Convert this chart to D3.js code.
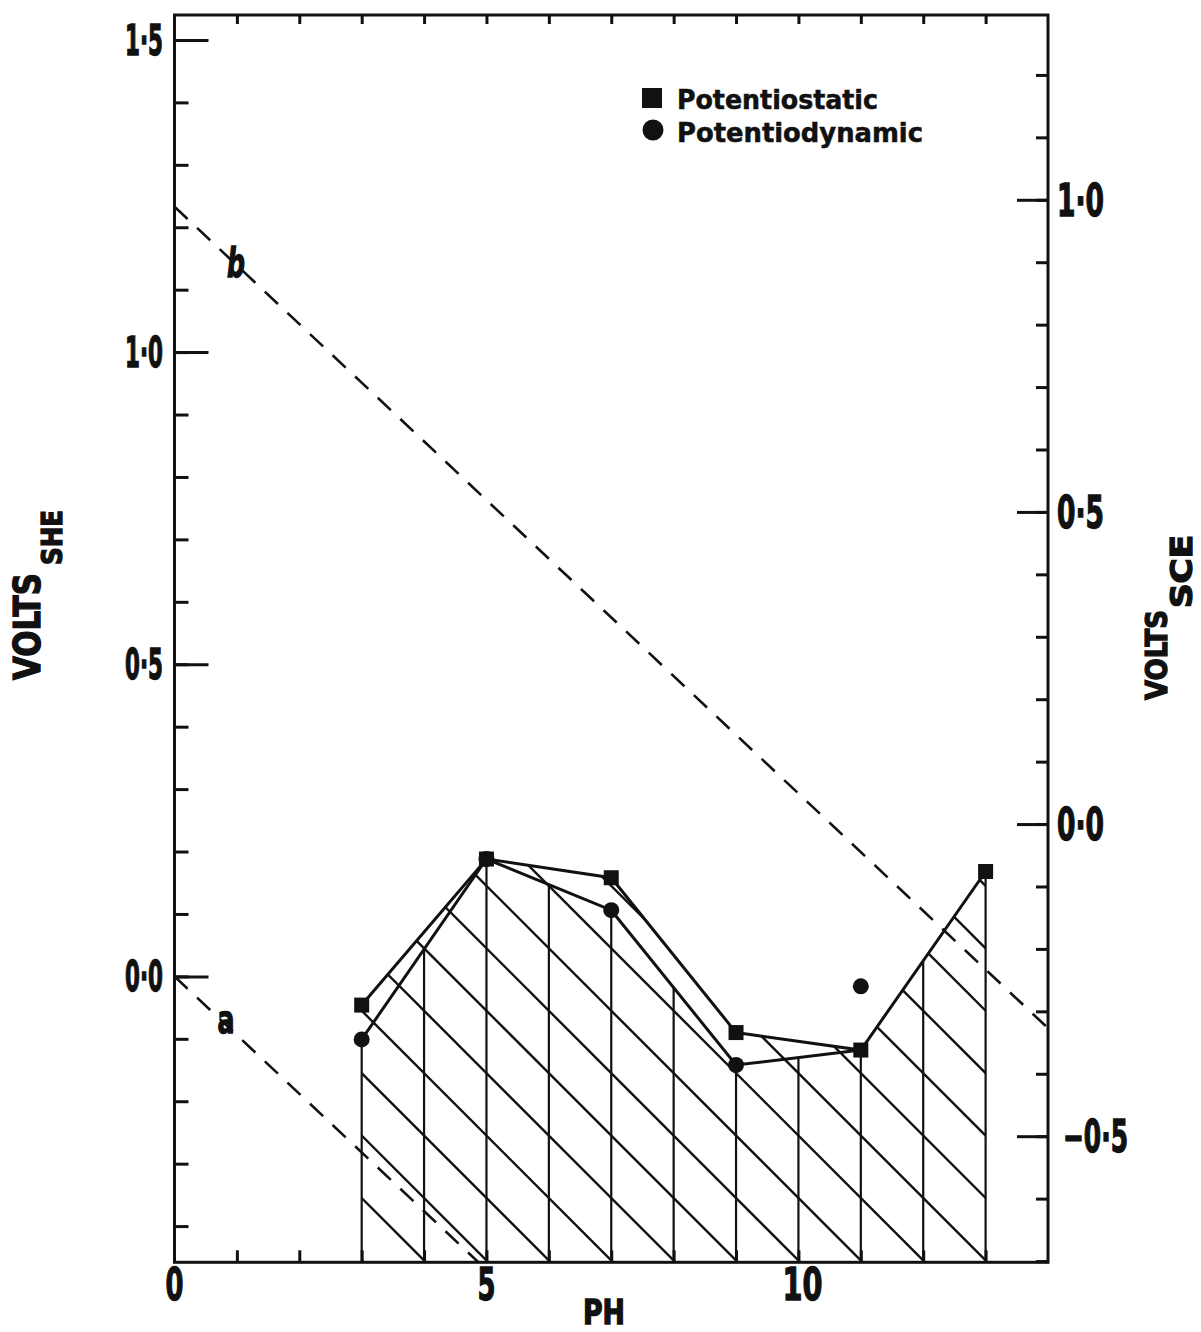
<!DOCTYPE html>
<html>
<head>
<meta charset="utf-8">
<script src="https://cdn.jsdelivr.net/npm/d3@7"></script>
<style>
  body { margin: 0; background: #fff; }
  svg text { font-family: "Liberation Sans Narrow", "DejaVu Sans Condensed", "Liberation Sans", sans-serif; font-weight: bold; fill: #111; }
  svg text.heavy { stroke: #111; stroke-width: 1.3px; }
  svg text.legend { stroke: #111; stroke-width: 0.5px; }
</style>
</head>
<body>
<script>
// values (volts vs SHE)
const staticPh = [3, 5, 7, 9, 11, 13];
const staticV = [-0.046, 0.188, 0.158, -0.090, -0.118, 0.168];
const dynamicPh = [3, 5, 7, 9, 11];
const dynamicV = [-0.101, 0.188, 0.106, -0.142, -0.016];
// the potentiodynamic curve is drawn up to pH 9, then joins the potentiostatic point at pH 11
const dynamicCurveEnd = 4;

// dashed reference lines a and b
const refNames = ['a', 'b'];
const refIntercepts = [0.0, 1.233];
const refSlope = -0.094;

const sheLabels = [0.0, 0.5, 1.0, 1.5];
const sceLabels = [-0.5, 0.0, 0.5, 1.0];
const phLabels = [0, 5, 10];
const sceOffset = 0.244;

const legendNames = ['Potentiostatic', 'Potentiodynamic'];

const W = 1201, H = 1332;
const X0 = 174.5, X1 = 1048, Y0 = 15, Y1 = 1262.3;
const ink = '#111';

const x = d3.scaleLinear().domain([0, 14]).range([X0, X1]);
const y = d3.scaleLinear().domain([-0.458, 1.54]).range([Y1, Y0]);
const ySce = d3.scaleLinear().domain([-0.458 - sceOffset, 1.54 - sceOffset]).range([Y1, Y0]);

const svg = d3.select('body').append('svg').attr('width', W).attr('height', H);

const fmt = v => (v < 0 ? '\u2212' : '') + Math.abs(v).toFixed(1).replace('.', '\u00b7');

function text(px, py, str, size, len, anchor = 'start') {
  return svg.append('text')
    .attr('x', px).attr('y', py)
    .attr('font-size', size)
    .attr('text-anchor', anchor)
    .attr('textLength', len)
    .attr('lengthAdjust', 'spacingAndGlyphs')
    .text(str);
}

function styleAxis(g) {
  g.select('.domain').remove();
  g.selectAll('.tick line').attr('stroke', ink).attr('stroke-width', 3);
}

// ---- hatched region (clipped under the potentiostatic curve)
const defs = svg.append('defs');
const hatchPoly = [[staticPh[0], y.domain()[0]]]
  .concat(staticPh.map((p, i) => [p, staticV[i]]))
  .concat([[staticPh[staticPh.length - 1], y.domain()[0]]]);
defs.append('clipPath').attr('id', 'hatch-clip')
  .append('path')
  .attr('d', d3.line().x(d => x(d[0])).y(d => y(d[1]))(hatchPoly) + 'Z');
defs.append('clipPath').attr('id', 'plot-clip')
  .append('rect').attr('x', X0).attr('y', Y0).attr('width', X1 - X0).attr('height', Y1 - Y0);

const hatch = svg.append('g').attr('clip-path', 'url(#hatch-clip)');
const hatchStart = staticPh[0], hatchEnd = staticPh[staticPh.length - 1];
d3.range(-3, 17).forEach(k => {
  const c = 0.045 + 0.1 * k;
  hatch.append('line')
    .attr('x1', x(hatchStart)).attr('y1', y(c - 0.1 * hatchStart))
    .attr('x2', x(hatchEnd)).attr('y2', y(c - 0.1 * hatchEnd))
    .attr('stroke', ink).attr('stroke-width', 2.4);
});

// lower curve used for the vertical hatch lines
const dynCurve = dynamicPh.slice(0, dynamicCurveEnd).map((p, i) => [p, dynamicV[i]])
  .concat([[staticPh[4], staticV[4]]]);
const statCurve = staticPh.map((p, i) => [p, staticV[i]]);
function interp(pts, p) {
  for (let i = 0; i < pts.length - 1; i++) {
    const [a, va] = pts[i], [b, vb] = pts[i + 1];
    if (p >= a && p <= b) return va + (vb - va) * (p - a) / (b - a);
  }
  return null;
}
d3.range(hatchStart, hatchEnd + 1).forEach(p => {
  const tops = [interp(statCurve, p), interp(dynCurve, p)].filter(v => v !== null);
  svg.append('line')
    .attr('x1', x(p)).attr('x2', x(p))
    .attr('y1', y(y.domain()[0])).attr('y2', y(d3.min(tops)))
    .attr('stroke', ink).attr('stroke-width', 2.2);
});

// ---- dashed lines a and b
const dashed = svg.append('g').attr('clip-path', 'url(#plot-clip)');
refIntercepts.forEach(c => {
  dashed.append('line')
    .attr('x1', x(0)).attr('y1', y(c))
    .attr('x2', x(14)).attr('y2', y(c + refSlope * 14))
    .attr('stroke', ink).attr('stroke-width', 2.6)
    .attr('stroke-dasharray', '18,13');
});

// ---- data curves
const line = d3.line().x(d => x(d[0])).y(d => y(d[1]));
svg.append('path').attr('d', line(statCurve))
  .attr('fill', 'none').attr('stroke', ink).attr('stroke-width', 3);
svg.append('path').attr('d', line(dynCurve))
  .attr('fill', 'none').attr('stroke', ink).attr('stroke-width', 3);

svg.selectAll('circle.dyn').data(dynamicPh).join('circle')
  .attr('class', 'dyn')
  .attr('cx', d => x(d)).attr('cy', (d, i) => y(dynamicV[i]))
  .attr('r', 8).attr('fill', ink);
svg.selectAll('rect.stat').data(staticPh).join('rect')
  .attr('class', 'stat')
  .attr('x', d => x(d) - 7.5).attr('y', (d, i) => y(staticV[i]) - 7.5)
  .attr('width', 15).attr('height', 15).attr('fill', ink);

// ---- frame and axes
svg.append('rect')
  .attr('x', X0).attr('y', Y0).attr('width', X1 - X0).attr('height', Y1 - Y0)
  .attr('fill', 'none').attr('stroke', ink).attr('stroke-width', 3);

svg.append('g').attr('transform', `translate(${X0},0)`)
  .call(d3.axisRight(y).tickValues(d3.range(-4, 16).map(d => d / 10)).tickSize(14).tickFormat(''))
  .call(styleAxis);
svg.append('g').attr('transform', `translate(${X0},0)`)
  .call(d3.axisRight(y).tickValues(sheLabels).tickSize(34).tickFormat(''))
  .call(styleAxis);

svg.append('g').attr('transform', `translate(${X1},0)`)
  .call(d3.axisLeft(ySce).tickValues(d3.range(-7, 13).map(d => d / 10)).tickSize(12).tickFormat(''))
  .call(styleAxis);
svg.append('g').attr('transform', `translate(${X1},0)`)
  .call(d3.axisLeft(ySce).tickValues(sceLabels).tickSize(31).tickFormat(''))
  .call(styleAxis);

svg.append('g').attr('transform', `translate(0,${Y1})`)
  .call(d3.axisTop(x).tickValues(d3.range(1, 14)).tickSize(12).tickFormat(''))
  .call(styleAxis);
svg.append('g').attr('transform', `translate(0,${Y0})`)
  .call(d3.axisBottom(x).tickValues(d3.range(1, 14)).tickSize(9).tickFormat(''))
  .call(styleAxis);

// ---- tick labels
sheLabels.forEach(v => text(163, y(v) + 15, fmt(v), 42, 38, 'end').classed('heavy', true));
sceLabels.forEach(v => {
  const t = v < 0 ? text(1063, ySce(v) + 16, fmt(v), 44, 65) : text(1057, ySce(v) + 16, fmt(v), 44, 47);
  t.classed('heavy', true);
});
phLabels.forEach(p => text(x(p) + (p >= 10 ? 4 : 0), 1300, String(p), 45, p >= 10 ? 40 : 18, 'middle')
  .classed('heavy', true));

// ---- axis titles
text(604, 1324, 'PH', 33, 42, 'middle').classed('heavy', true);

const leftTitle = svg.append('g').attr('transform', 'translate(40,680) rotate(-90)');
leftTitle.append('text').attr('class', 'heavy').attr('font-size', 38).attr('textLength', 107)
  .attr('lengthAdjust', 'spacingAndGlyphs').text('VOLTS');
leftTitle.append('text').attr('class', 'heavy').attr('x', 115).attr('y', 22).attr('font-size', 29).attr('textLength', 55)
  .attr('lengthAdjust', 'spacingAndGlyphs').text('SHE');

const rightTitle = svg.append('g').attr('transform', 'translate(1167,700) rotate(-90)');
rightTitle.append('text').attr('class', 'heavy').attr('font-size', 31).attr('textLength', 90)
  .attr('lengthAdjust', 'spacingAndGlyphs').text('VOLTS');
rightTitle.append('text').attr('class', 'heavy').attr('x', 92).attr('y', 25).attr('font-size', 30).attr('textLength', 73)
  .attr('lengthAdjust', 'spacingAndGlyphs').text('SCE');

// ---- line labels
text(236, 277, refNames[1], 40, 18, 'middle').attr('font-style', 'italic').classed('heavy', true);
text(226, 1033, refNames[0], 38, 17, 'middle').classed('heavy', true);

// ---- legend
svg.append('rect').attr('x', 642).attr('y', 88).attr('width', 20).attr('height', 20).attr('fill', ink);
svg.append('circle').attr('cx', 653).attr('cy', 130).attr('r', 10.5).attr('fill', ink);
text(677, 109, legendNames[0], 27, 201).classed('legend', true);
text(677, 142, legendNames[1], 27, 246).classed('legend', true);
</script>
</body>
</html>
